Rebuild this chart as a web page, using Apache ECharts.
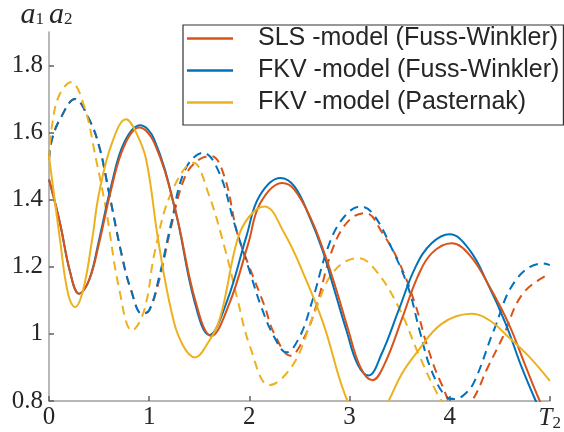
<!DOCTYPE html>
<html>
<head>
<meta charset="utf-8">
<script src="https://cdn.jsdelivr.net/npm/echarts@6/dist/echarts.min.js"></script>
<style>html,body{margin:0;padding:0;background:#fff}#c{width:564px;height:432px}</style>
</head>
<body>
<div id="c"></div>
<script>
// Legend names
const legendNames = ['SLS -model (Fuss-Winkler)', 'FKV -model (Fuss-Winkler)', 'FKV -model (Pasternak)'];
// x tick labels
const xTickLabels = ['0', '1', '2', '3', '4', 'T2'];
const yTickValues = [0.8, 1.0, 1.2, 1.4, 1.6, 1.8];

// a1 (solid) series: [T, value]
const slsA1 = [[0,1.46],[0.11,1.33],[0.21,1.185],[0.30,1.12],[0.40,1.16],[0.50,1.27],[0.62,1.43],[0.75,1.56],[0.90,1.615],[1.05,1.57],[1.26,1.37],[1.46,1.10],[1.62,0.994],[1.80,1.09],[1.99,1.27],[2.11,1.39],[2.33,1.45],[2.45,1.43],[2.62,1.34],[2.75,1.24],[2.87,1.13],[2.98,1.02],[3.11,0.90],[3.23,0.862],[3.35,0.91],[3.53,1.05],[3.68,1.17],[3.82,1.24],[4.02,1.27],[4.20,1.235],[4.40,1.14],[4.59,1.03],[4.75,0.91],[4.90,0.80],[5.00,0.74]];
const fkvA1 = [[0,1.46],[0.11,1.33],[0.21,1.185],[0.30,1.12],[0.40,1.16],[0.50,1.28],[0.62,1.44],[0.75,1.57],[0.91,1.622],[1.05,1.58],[1.26,1.37],[1.45,1.10],[1.60,0.997],[1.78,1.10],[1.97,1.29],[2.10,1.41],[2.31,1.465],[2.45,1.44],[2.60,1.35],[2.73,1.25],[2.85,1.13],[2.97,1.01],[3.08,0.91],[3.19,0.876],[3.32,0.94],[3.49,1.07],[3.66,1.20],[3.82,1.27],[4.00,1.297],[4.20,1.25],[4.38,1.15],[4.56,1.03],[4.72,0.90],[4.86,0.80],[5.00,0.71]];
const pasA1 = [[0,1.53],[0.11,1.28],[0.19,1.12],[0.26,1.08],[0.34,1.13],[0.43,1.28],[0.50,1.42],[0.63,1.57],[0.77,1.64],[0.87,1.60],[0.97,1.52],[1.09,1.28],[1.22,1.07],[1.33,0.97],[1.46,0.93],[1.58,0.97],[1.71,1.05],[1.88,1.28],[2.00,1.35],[2.15,1.38],[2.35,1.30],[2.54,1.18],[2.74,1.03],[2.98,0.80],[3.20,0.70],[3.39,0.80],[3.52,0.88],[3.66,0.94],[3.92,1.03],[4.22,1.06],[4.40,1.04],[4.59,0.99],[4.80,0.93],[5.00,0.86]];

// a2 (dashed) series: [T, value]
const slsA2 = [[0,1.52],[0.03,1.58],[0.11,1.64],[0.26,1.70],[0.40,1.64],[0.50,1.56],[0.60,1.42],[0.73,1.23],[0.82,1.13],[0.93,1.06],[1.00,1.07],[1.10,1.16],[1.22,1.32],[1.36,1.47],[1.50,1.52],[1.62,1.53],[1.75,1.47],[1.88,1.30],[2.00,1.20],[2.15,1.085],[2.25,1.00],[2.41,0.935],[2.55,0.99],[2.67,1.085],[2.84,1.26],[3.00,1.34],[3.16,1.36],[3.33,1.30],[3.50,1.21],[3.66,1.085],[3.78,0.96],[3.92,0.85],[4.08,0.77],[4.22,0.80],[4.38,0.90],[4.53,0.99],[4.73,1.12],[5.00,1.18]];
const fkvA2 = [[0,1.52],[0.03,1.58],[0.11,1.64],[0.26,1.70],[0.40,1.64],[0.50,1.56],[0.60,1.42],[0.73,1.23],[0.82,1.13],[0.93,1.06],[1.00,1.07],[1.10,1.17],[1.22,1.33],[1.36,1.49],[1.54,1.54],[1.70,1.48],[1.85,1.33],[2.00,1.19],[2.12,1.08],[2.25,0.99],[2.37,0.945],[2.50,0.99],[2.62,1.09],[2.80,1.27],[2.95,1.35],[3.11,1.38],[3.23,1.36],[3.43,1.25],[3.59,1.135],[3.70,1.01],[3.82,0.89],[3.98,0.81],[4.05,0.806],[4.15,0.82],[4.25,0.86],[4.44,1.01],[4.66,1.16],[4.93,1.21],[5.00,1.205]];
const pasA2 = [[0,1.52],[0.03,1.62],[0.10,1.71],[0.22,1.75],[0.35,1.68],[0.47,1.52],[0.57,1.37],[0.70,1.135],[0.83,1.01],[0.95,1.07],[1.06,1.25],[1.22,1.42],[1.44,1.51],[1.59,1.42],[1.76,1.25],[1.88,1.105],[2.01,0.96],[2.20,0.847],[2.44,0.91],[2.64,1.055],[2.84,1.185],[3.09,1.226],[3.26,1.19],[3.49,1.08],[3.69,0.94],[3.88,0.82],[4.00,0.77],[4.40,0.62],[4.80,0.68],[5.00,0.74]];

const RED = '#D95319', BLUE = '#0072BD', YEL = '#EDB120';
const SERIF = '"Liberation Serif", "DejaVu Serif", serif';
const SANS = '"Liberation Sans", Arial, sans-serif';

function solid(name, data, color) {
  return { name, type: 'line', data, smooth: 0.4, showSymbol: false, symbol: 'none',
    lineStyle: { color, width: 2 }, itemStyle: { color }, z: 3 };
}
function dashed(name, data, color) {
  return { name, type: 'line', data, smooth: 0.4, showSymbol: false, symbol: 'none',
    lineStyle: { color, width: 2, type: [9, 6] }, itemStyle: { color }, z: 2 };
}

const chart = echarts.init(document.getElementById('c'), null, { renderer: 'canvas' });
chart.setOption({
  animation: false,
  backgroundColor: '#fff',
  grid: { left: 49, right: 7.5, top: 30, bottom: 28, containLabel: false },
  legend: {
    data: legendNames,
    orient: 'vertical',
    left: 183, top: 25,
    padding: [1, 4, 10, 4],
    icon: 'rect',
    itemWidth: 46, itemHeight: 2.5, itemGap: 7,
    backgroundColor: '#fff', borderColor: '#333', borderWidth: 1.2,
    textStyle: { fontFamily: SANS, fontSize: 25, color: '#262626', lineHeight: 24, padding: [0, 0, 0, 20] }
  },
  xAxis: {
    type: 'value', min: 0, max: 5, interval: 1,
    axisLine: { lineStyle: { color: '#a0a0a0', width: 1.5 } },
    axisTick: { inside: true, length: 5, lineStyle: { color: '#606060', width: 1.5 } },
    splitLine: { show: false },
    axisLabel: {
      margin: 4, color: '#262626', fontFamily: SERIF, fontSize: 25,
      formatter: function (v) {
        const s = xTickLabels[Math.round(v)];
        return s === 'T2' ? '{t|T}{s|2}' : s;
      },
      rich: {
        t: { fontFamily: SERIF, fontStyle: 'italic', fontSize: 25, color: '#262626' },
        s: { fontFamily: SERIF, fontSize: 17, color: '#262626', padding: [10, 0, 0, 0] }
      }
    }
  },
  yAxis: {
    type: 'value', min: 0.8, max: 1.9,
    name: '{a|a}{s|1}{a|a}{s|2}',
    nameLocation: 'end', nameGap: 2,
    nameTextStyle: {
      align: 'center', verticalAlign: 'bottom',
      rich: {
        a: { fontFamily: SERIF, fontStyle: 'italic', fontSize: 30, color: '#262626' },
        s: { fontFamily: SERIF, fontSize: 17, color: '#262626', padding: [10, 5, 0, 0] }
      }
    },
    axisLine: { show: true, lineStyle: { color: '#a0a0a0', width: 1.5 } },
    axisTick: { show: true, inside: true, length: 5, customValues: yTickValues, lineStyle: { color: '#606060', width: 1.5 } },
    splitLine: { show: false },
    axisLabel: {
      margin: 6, color: '#262626', fontFamily: SERIF, fontSize: 25,
      customValues: yTickValues,
      formatter: function (v) { return String(Math.round(v * 10) / 10); }
    }
  },
  series: [
    dashed('SLS a2', slsA2, RED),
    dashed('FKV a2', fkvA2, BLUE),
    dashed('Pasternak a2', pasA2, YEL),
    solid(legendNames[1], fkvA1, BLUE),
    solid(legendNames[0], slsA1, RED),
    solid(legendNames[2], pasA1, YEL)
  ]
});
</script>
</body>
</html>
